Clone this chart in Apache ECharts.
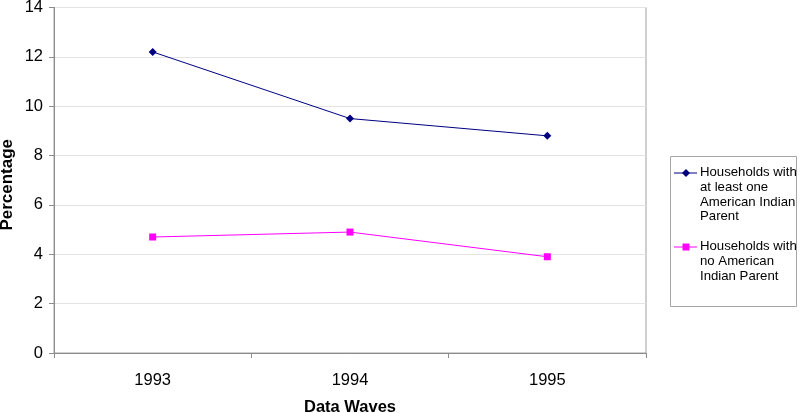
<!DOCTYPE html>
<html>
<head>
<meta charset="utf-8">
<script src="https://cdn.jsdelivr.net/npm/echarts@6/dist/echarts.min.js"></script>
<style>html,body{margin:0;padding:0;background:#fff;}#c{width:800px;height:413px;}</style>
</head>
<body>
<div id="c"></div>
<script>
const categories = ['1993', '1994', '1995'];
const seriesNames = ['Households with at least one American Indian Parent', 'Households with no American Indian Parent'];
const legendLabels = [['Households with', 'at least one', 'American Indian', 'Parent'], ['Households with', 'no American', 'Indian Parent']];
const withParent = [12.2, 9.5, 8.8];
const noParent = [4.7, 4.9, 3.9];
const yTicks = [0, 2, 4, 6, 8, 10, 12, 14];

const colors = ['#000080', '#FF00FF'];
const font = 'Liberation Sans, Arial, sans-serif';
const chart = echarts.init(document.getElementById('c'), null, {renderer: 'canvas'});

const legendX = 674, legendItems = [{y: 173, sym: 'diamond'}, {y: 247, sym: 'square'}];
const graphics = [{
  type: 'rect', shape: {x: 670.5, y: 156.5, width: 126, height: 150},
  style: {fill: '#fff', stroke: '#a6a6a6', lineWidth: 1}, z: 10
}];
legendItems.forEach((it, i) => {
  graphics.push({type: 'line', shape: {x1: legendX, y1: it.y, x2: legendX + 23, y2: it.y}, style: {stroke: colors[i], lineWidth: 1}, z: 11});
  if (it.sym === 'diamond') {
    graphics.push({type: 'polygon', shape: {points: [[686, it.y - 4], [690, it.y], [686, it.y + 4], [682, it.y]]}, style: {fill: colors[i]}, z: 12});
  } else {
    graphics.push({type: 'rect', shape: {x: 682.5, y: it.y - 3.5, width: 7, height: 7}, style: {fill: colors[i]}, z: 12});
  }
  graphics.push({type: 'text', x: 700, y: it.y - 7.5, style: {text: legendLabels[i].join('\n'), font: '13.2px ' + font, fill: '#000', lineHeight: 14.6, verticalAlign: 'top'}, z: 12});
});

chart.setOption({
  animation: false,
  backgroundColor: '#fff',
  grid: {left: 54, right: 154, top: 7.5, bottom: 60, outerBoundsMode: 'none', containLabel: false,
    show: true, borderColor: '#a0a0a0', borderWidth: 1, backgroundColor: 'transparent'},
  xAxis: {
    type: 'category', data: categories, boundaryGap: true,
    name: 'Data Waves', nameLocation: 'middle', nameGap: 46, nameMoveOverlap: false,
    nameTextStyle: {fontFamily: font, fontSize: 16.5, fontWeight: 'bold', color: '#000'},
    axisLine: {lineStyle: {color: '#8c8c8c'}},
    axisTick: {show: true, alignWithLabel: false, length: 5, lineStyle: {color: '#8c8c8c'}},
    axisLabel: {fontFamily: font, fontSize: 16.5, color: '#000', margin: 19},
    splitLine: {show: false}
  },
  yAxis: {
    type: 'value', min: 0, max: 14, interval: 2,
    name: 'Percentage', nameLocation: 'middle', nameGap: 38, nameRotate: 90, nameMoveOverlap: false,
    nameTextStyle: {fontFamily: font, fontSize: 17, fontWeight: 'bold', color: '#000', padding: [0, 9, 0, 0]},
    axisLine: {show: true, lineStyle: {color: '#8c8c8c'}},
    axisTick: {show: true, length: 5, lineStyle: {color: '#8c8c8c'}},
    axisLabel: {fontFamily: font, fontSize: 16.5, color: '#000', margin: 11,
      formatter: v => yTicks.includes(v) ? String(v) : ''},
    splitLine: {show: true, lineStyle: {color: '#e3e3e3', width: 1}}
  },
  series: [
    {name: seriesNames[0], type: 'line', data: withParent, symbol: 'diamond', symbolSize: 8,
      lineStyle: {color: colors[0], width: 1}, itemStyle: {color: colors[0]}},
    {name: seriesNames[1], type: 'line', data: noParent, symbol: 'rect', symbolSize: 7,
      lineStyle: {color: colors[1], width: 1}, itemStyle: {color: colors[1]}}
  ],
  graphic: graphics
});
</script>
</body>
</html>
